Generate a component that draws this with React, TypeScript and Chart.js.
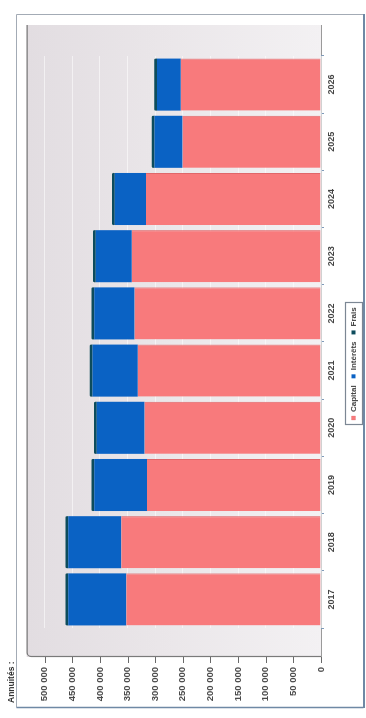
import { useEffect, useRef } from 'react';
import { Chart, registerables } from 'chart.js';

Chart.register(...registerables);

// Annual repayments split by component
const years = ['2017', '2018', '2019', '2020', '2021', '2022', '2023', '2024', '2025', '2026'];
const capital = [352500, 361500, 314700, 319600, 331500, 337600, 342300, 316500, 250500, 253600];
const interets = [104700, 95700, 95700, 86000, 82000, 72900, 65100, 56700, 50800, 43000];
const frais = [5000, 5000, 5000, 5000, 5000, 5000, 5000, 5000, 5000, 5000];
const valueTicks = [0, 50000, 100000, 150000, 200000, 250000, 300000, 350000, 400000, 450000, 500000];

const seriesNames = ['Capital', 'Intérêts', 'Frais'];
const seriesColors = ['#f87a7c', '#0a62c4', '#0d4c5c'];
const titleText = 'Annuités :';

const FONT = "'Liberation Sans', Arial, sans-serif";
const W = 718;
const H = 366;

const fmt = (v: number) => String(v).replace(/\B(?=(\d{3})+(?!\d))/g, ' ');

// Frame, 3D-style back wall, axis line, value tick marks and legend box
const decorPlugin = {
  id: 'decor',
  afterLayout(chart: any) {
    const lg = chart.legend;
    if (!lg) return;
    const p = lg.options.labels.padding;
    const lw = lg.lineWidths[0];
    const x0 = (lg.left + p + lg.right - lw) / 2;
    const dx = 298 - x0;
    const dy = 1.5;
    lg.left += dx;
    lg.right += dx;
    lg.top += dy;
    lg.bottom += dy;
  },
  beforeDraw(chart: any) {
    const { ctx, chartArea: ca } = chart;
    ctx.save();
    ctx.fillStyle = '#ffffff';
    ctx.fillRect(0, 0, W, H);

    // outer frame
    ctx.lineWidth = 1;
    ctx.strokeStyle = '#a3abb5';
    ctx.beginPath();
    ctx.moveTo(10.5, 16.5);
    ctx.lineTo(703.5, 16.5);
    ctx.lineTo(703.5, 363);
    ctx.stroke();
    ctx.strokeStyle = '#6f89a5';
    ctx.lineWidth = 1.5;
    ctx.beginPath();
    ctx.moveTo(10.5, 16.5);
    ctx.lineTo(10.5, 363.5);
    ctx.stroke();
    ctx.lineWidth = 2;
    ctx.beginPath();
    ctx.moveTo(10, 364);
    ctx.lineTo(704, 364);
    ctx.stroke();

    // back wall
    const wl = ca.left - 29;
    const wr = ca.right + 31;
    const wt = ca.top - 18;
    const wb = ca.bottom;
    const g = ctx.createLinearGradient(0, wt, 0, wb);
    g.addColorStop(0, '#e2dde1');
    g.addColorStop(0.45, '#eae6e9');
    g.addColorStop(1, '#f3f1f3');
    ctx.fillStyle = g;
    ctx.fillRect(wl, wt, wr - wl, wb - wt);

    // value axis line joined to the wall top
    ctx.strokeStyle = '#7a7a7a';
    ctx.lineWidth = 1.2;
    ctx.beginPath();
    ctx.moveTo(wl + 0.5, wb + 0.5);
    ctx.lineTo(wl + 0.5, wt + 4.5);
    ctx.arcTo(wl + 0.5, wt + 0.5, wl + 4.5, wt + 0.5, 4);
    ctx.lineTo(wr, wt + 0.5);
    ctx.stroke();
    ctx.strokeStyle = '#9a9a9a';
    ctx.lineWidth = 1;
    ctx.beginPath();
    ctx.moveTo(wl, wb + 0.5);
    ctx.lineTo(wr, wb + 0.5);
    ctx.stroke();

    // tick marks on the value axis
    const ys = chart.scales.y;
    ctx.strokeStyle = '#6a6a6a';
    ctx.lineWidth = 1;
    for (const v of valueTicks) {
      const py = Math.round(ys.getPixelForValue(v)) + 0.5;
      ctx.beginPath();
      ctx.moveTo(wl - 6, py);
      ctx.lineTo(wl, py);
      ctx.stroke();
    }
    ctx.restore();
  },
  afterDraw(chart: any) {
    const lg = chart.legend;
    if (!lg || !lg.legendHitBoxes || !lg.legendHitBoxes.length) return;
    const hb = lg.legendHitBoxes;
    const l = Math.min(...hb.map((b: any) => b.left)) - 5;
    const r = Math.max(...hb.map((b: any) => b.left + b.width)) + 4;
    const t = Math.min(...hb.map((b: any) => b.top)) - 4.5;
    const b = Math.max(...hb.map((b: any) => b.top + b.height)) + 4.5;
    const { ctx } = chart;
    ctx.save();
    ctx.strokeStyle = '#7c8794';
    ctx.lineWidth = 1.2;
    ctx.strokeRect(Math.round(l) + 0.5, Math.round(t) + 0.5, Math.round(r - l), Math.round(b - t));
    ctx.restore();
  },
};

export default function App() {
  const ref = useRef<HTMLCanvasElement>(null);

  useEffect(() => {
    if (!ref.current) return;
    const seriesData = [capital, interets, frais];
    const chart = new Chart(ref.current, {
      type: 'bar',
      data: {
        labels: years,
        datasets: seriesNames.map((name, i) => ({
          label: name,
          data: seriesData[i],
          backgroundColor: seriesColors[i],
          borderColor: i === 0 ? '#e0676a' : seriesColors[i],
          borderWidth: i === 0 ? { left: 0, right: 1, top: 0, bottom: 0 } : 0,
          borderRadius: i === 2 ? 2 : 0,
          borderSkipped: 'start',
          barPercentage: 0.91,
          categoryPercentage: 1,
        })),
      },
      options: {
        responsive: false,
        devicePixelRatio: 1,
        animation: false,
        layout: { padding: { left: 15, right: 56, top: 0, bottom: 0 } },
        plugins: {
          title: {
            display: true,
            text: titleText,
            align: 'start',
            color: '#333333',
            font: { family: FONT, size: 8.5, weight: 'bold' },
            padding: { top: 5, bottom: 28 },
          },
          legend: {
            display: true,
            position: 'bottom',
            labels: {
              usePointStyle: true,
              pointStyle: 'rect',
              boxWidth: 4,
              boxHeight: 4,
              padding: 7,
              color: '#444444',
              font: { family: FONT, size: 8, weight: 'bold' },
            },
          },
          tooltip: { enabled: false },
        },
        scales: {
          x: {
            stacked: true,
            border: { display: false },
            grid: { display: true, drawOnChartArea: false, drawTicks: true, tickLength: 3, color: '#7f9ab8' },
            ticks: {
              color: '#444444',
              font: { family: FONT, size: 9, weight: 'bold' },
              padding: 2,
              maxRotation: 0,
              autoSkip: false,
            },
            afterFit: (s: any) => {
              s.height = 20;
            },
          },
          y: {
            stacked: true,
            min: 0,
            max: 500000,
            border: { display: false },
            grid: { color: 'rgba(255,255,255,0.55)', drawTicks: false },
            afterBuildTicks: (s: any) => {
              s.ticks = valueTicks.map((v) => ({ value: v }));
            },
            ticks: {
              color: '#4a4a4a',
              font: { family: FONT, size: 9.5, weight: 'bold' },
              padding: 39,
              callback: (v: any) => fmt(Number(v)),
            },
            afterFit: (s: any) => {
              s.width = 75;
            },
          },
        },
      },
      plugins: [decorPlugin],
    } as any);
    return () => chart.destroy();
  }, []);

  return (
    <div
      style={{
        position: 'fixed',
        left: 0,
        top: 0,
        width: 366,
        height: 718,
        overflow: 'hidden',
        background: '#ffffff',
      }}
    >
      <div
        style={{
          position: 'absolute',
          left: 0,
          top: 0,
          width: W,
          height: H,
          transformOrigin: '0 0',
          transform: `translateY(${W}px) rotate(-90deg)`,
        }}
      >
        <canvas ref={ref} width={W} height={H} style={{ display: 'block', width: W, height: H }} />
      </div>
    </div>
  );
}
